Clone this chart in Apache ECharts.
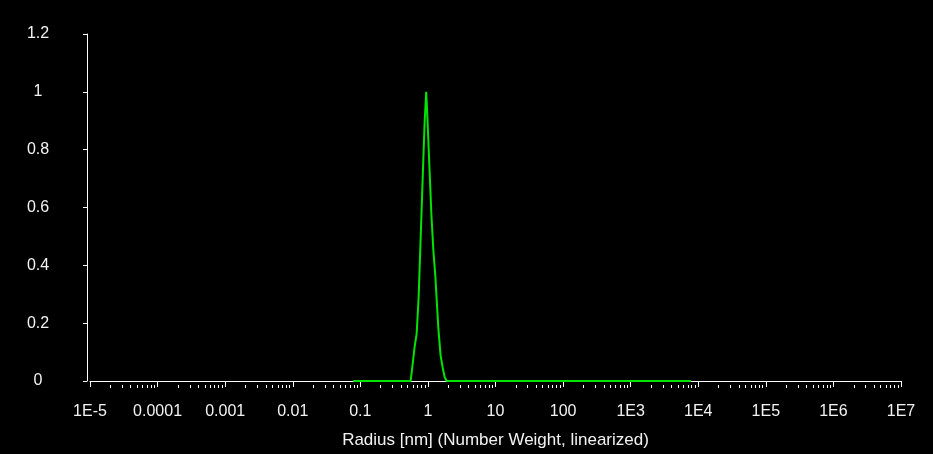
<!DOCTYPE html>
<html>
<head>
<meta charset="utf-8">
<script src="https://cdn.jsdelivr.net/npm/echarts@6/dist/echarts.min.js"></script>
<style>
html,body{margin:0;padding:0;background:#000;}
#chart{width:933px;height:454px;}
</style>
</head>
<body>
<div id="chart"></div>
<script>
// Data
const radiusNm = [0.0785, 0.555, 0.600, 0.635, 0.681, 0.728, 0.779, 0.835, 0.894, 0.944, 0.984, 1.052, 1.127, 1.205, 1.291, 1.359, 1.429, 1.541, 1.649, 1.766, 1.891, 7780];
const numberWeight = [0, 0, 0.066, 0.117, 0.163, 0.286, 0.487, 0.694, 0.895, 1.0, 0.908, 0.742, 0.573, 0.450, 0.359, 0.267, 0.180, 0.088, 0.048, 0.014, 0, 0];
const xTickValues = [1e-5, 1e-4, 1e-3, 1e-2, 1e-1, 1, 10, 100, 1e3, 1e4, 1e5, 1e6, 1e7];
const xTickLabels = ['1E-5', '0.0001', '0.001', '0.01', '0.1', '1', '10', '100', '1E3', '1E4', '1E5', '1E6', '1E7'];
const minorMultipliers = [2, 3, 4, 5, 6, 7, 8, 9];
const xAxisName = 'Radius [nm] (Number Weight, linearized)';

const minorTickValues = [];
for (let i = 0; i < xTickValues.length - 1; i++) {
  minorMultipliers.forEach(m => minorTickValues.push(xTickValues[i] * m));
}

const textColor = '#f2f2f2';
const font = 'Liberation Sans';

const chart = echarts.init(document.getElementById('chart'), null, {renderer: 'canvas'});
chart.setOption({
  backgroundColor: '#000000',
  animation: false,
  grid: {left: 90, right: 32, top: 34, bottom: 72, containLabel: false},
  xAxis: [{
    type: 'log',
    logBase: 10,
    min: 1e-5,
    max: 1e7,
    offset: 4,
    position: 'bottom',
    splitLine: {show: false},
    axisLine: {show: true, lineStyle: {color: '#ffffff', width: 1}},
    axisTick: {show: true, inside: false, length: 6, lineStyle: {color: '#ffffff'}, customValues: xTickValues},
    axisLabel: {
      show: true, color: textColor, fontFamily: font, fontSize: 16, margin: 19,
      customValues: xTickValues,
      formatter: function (v) {
        const idx = xTickValues.findIndex(t => Math.abs(Math.log10(t) - Math.log10(v)) < 1e-6);
        return idx >= 0 ? xTickLabels[idx] : '';
      }
    },
    name: xAxisName,
    nameLocation: 'middle',
    nameGap: 47,
    nameTextStyle: {color: textColor, fontFamily: font, fontSize: 17}
  }, {
    type: 'log',
    logBase: 10,
    min: 1e-5,
    max: 1e7,
    offset: 4,
    position: 'bottom',
    splitLine: {show: false},
    axisLine: {show: false},
    axisTick: {show: true, inside: false, length: 3, lineStyle: {color: '#ffffff'}, customValues: minorTickValues},
    axisLabel: {show: false}
  }],
  yAxis: {
    type: 'value',
    min: 0,
    max: 1.2,
    interval: 0.2,
    offset: 3,
    splitLine: {show: false},
    axisLine: {show: true, lineStyle: {color: '#ffffff', width: 1}},
    axisTick: {show: true, length: 4, lineStyle: {color: '#ffffff'}},
    axisLabel: {color: textColor, fontFamily: font, fontSize: 16, align: 'center', margin: 49}
  },
  series: [{
    type: 'line',
    xAxisIndex: 0,
    data: radiusNm.map((r, i) => [r, numberWeight[i]]),
    showSymbol: false,
    symbol: 'none',
    smooth: false,
    lineStyle: {color: '#00e400', width: 2},
    clip: false
  }]
});
</script>
</body>
</html>
